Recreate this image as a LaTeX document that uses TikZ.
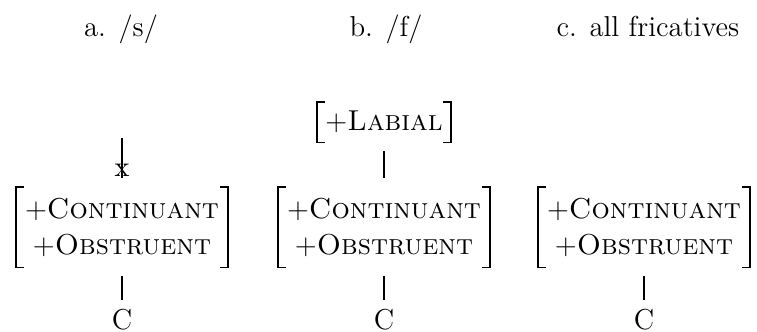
\documentclass[tikz,border=0pt]{standalone}
\usetikzlibrary{positioning}
\begin{document}
\begin{tikzpicture}[x=0.5pt,y=-0.5pt,
    font=\fontsize{14.4}{18}\selectfont,
    feat/.style={align=center,inner xsep=4.5pt,inner ysep=0pt,minimum height=40pt},
    lab/.style={inner xsep=4pt,inner ysep=0pt,minimum height=20pt},
    brk/.style={line width=0.9pt},
    lbl/.style={anchor=base},
    seg/.style={anchor=base,inner sep=0pt},
    assoc/.style={line width=0.9pt,shorten <=4.2pt,shorten >=4.2pt}]
  \useasboundingbox (0,0) rectangle (757,332);
  % column headings
  \node[lbl] (ta) at (121,37) {a. /s/};
  \node[lbl] (tb) at (386,37) {b. /f/};
  \node[lbl] (tc) at (648,37) {c. all fricatives};
  % feature matrices
  \node[feat] (ma) at (122,227) {+\textsc{Continuant}\\+\textsc{Obstruent}};
  \node[feat] (mb) at (384,227) {+\textsc{Continuant}\\+\textsc{Obstruent}};
  \node[feat] (mc) at (644,227) {+\textsc{Continuant}\\+\textsc{Obstruent}};
  \node[lab] (lb) at (384,122) {+\textsc{Labial}};
  % brackets round them
  \foreach \m in {ma,mb,mc,lb}{
    \draw[brk] ([xshift=4pt]\m.north west) -- (\m.north west)
      -- (\m.south west) -- ([xshift=4pt]\m.south west);
    \draw[brk] ([xshift=-4pt]\m.north east) -- (\m.north east)
      -- (\m.south east) -- ([xshift=-4pt]\m.south east);
  }
  % C slots
  \node[seg] (ca) at (122,329) {C};
  \node[seg] (cb) at (384,329) {C};
  \node[seg] (cc) at (644,329) {C};
  % association lines
  \coordinate (atop) at (122,138);
  \draw[assoc,shorten <=0pt] (atop) -- node[pos=0.66,inner sep=0pt] {x} (ma);
  \draw[assoc] (lb) -- (mb);
  \draw[assoc] (ma) -- (ca);
  \draw[assoc] (mb) -- (cb);
  \draw[assoc] (mc) -- (cc);
\end{tikzpicture}
\end{document}
